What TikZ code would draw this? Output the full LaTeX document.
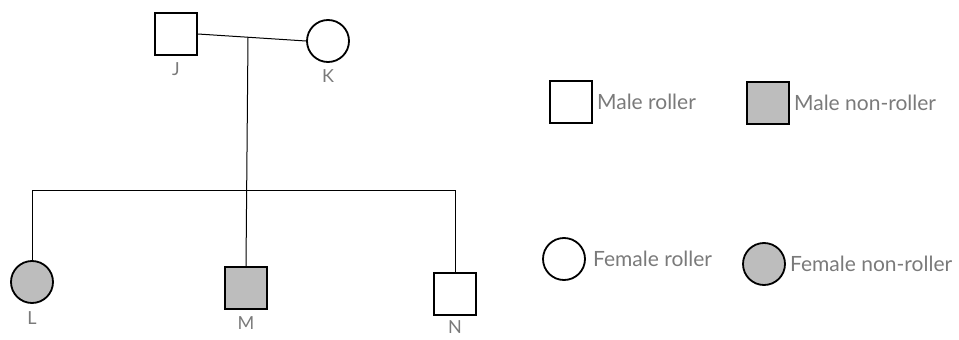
\documentclass[tikz,border=0pt]{standalone}
\usepackage{fontspec}
\setmainfont{Lato}
\usetikzlibrary{positioning}
\definecolor{affect}{HTML}{BDBDBD}
\definecolor{lblgray}{HTML}{7A7A7A}

\begin{document}
\begin{tikzpicture}[
  x=1pt, y=-1pt, node distance=6pt,
  male/.style={draw,line width=1.8pt,minimum size=42pt,inner sep=0pt},
  female/.style={draw,circle,line width=1.8pt,minimum size=42pt,inner sep=0pt},
  hit/.style={fill=affect},
  lbl/.style={font=\fontsize{18}{20}\selectfont,text=lblgray,inner sep=1pt},
  key/.style={font=\fontsize{21}{23}\selectfont,text=lblgray,inner sep=1pt,anchor=west},
  link/.style={line width=1pt}]
  \useasboundingbox (0,0) rectangle (959,340);
  % parents
  \node[male] (J) at (176,34) {};
  \node[female] (K) at (328,41) {};
  \node[lbl,below=of J] (Jl) {J};
  \node[lbl,below=of K] (Kl) {K};
  % children
  \node[female,hit] (L) at (32,282) {};
  \node[male,hit] (M) at (246,288) {};
  \node[male] (N) at (455,294) {};
  \node[lbl,below=of L] (Ll) {L};
  \node[lbl,below=of M] (Ml) {M};
  \node[lbl,below=3pt of N] (Nl) {N};
  % mating line and sibship line
  \coordinate (mate) at (248,37);
  \coordinate (sib) at (248,190);
  \draw[link] (J.east) -- (K.west);
  \draw[link] (mate) -- (M.north);
  \draw[link] (L.north) -- (L.north |- sib) -- (N.north |- sib) -- (N.north);
  % key
  \node[male] (k1) at (571,102) {};
  \node[key,right=3pt of k1] (k1t) {Male roller};
  \node[male,hit] (k2) at (768,103) {};
  \node[key,right=3pt of k2] (k2t) {Male non-roller};
  \node[female] (k3) at (564,259) {};
  \node[key,right=6pt of k3] (k3t) {Female roller};
  \node[female,hit] (k4) at (764,264) {};
  \node[key,right=3pt of k4] (k4t) {Female non-roller};
\end{tikzpicture}
\end{document}
